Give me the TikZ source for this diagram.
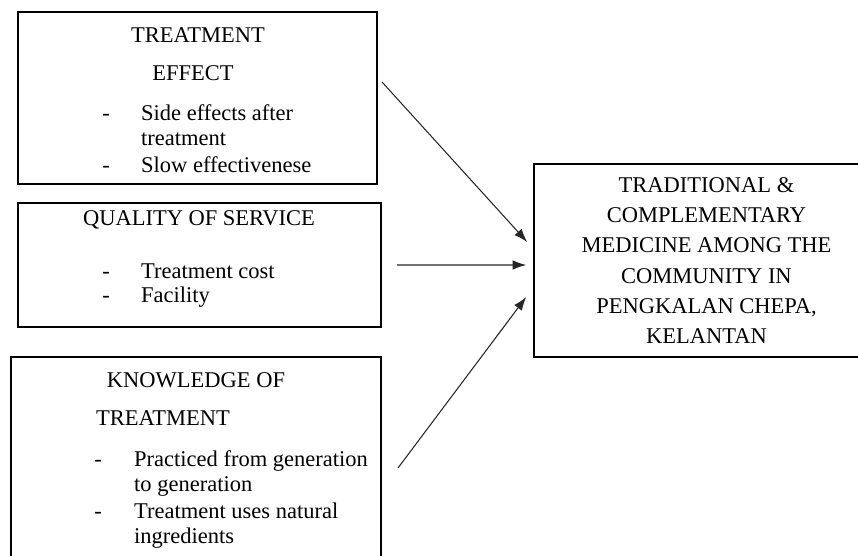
\documentclass[tikz,border=0pt]{standalone}
\usepackage{fontspec}
\setmainfont{Liberation Serif}
\usetikzlibrary{arrows.meta}
\tikzset{
  box/.style={draw,line width=.9pt,inner sep=0pt},
  head/.style={anchor=base},
  bullet/.style={anchor=base},
  item/.style={anchor=base west},
  arr/.style={-{Latex[length=.27cm,width=.19cm]},black!85,line width=.6pt}
}

\begin{document}
\begin{tikzpicture}[font=\fontsize{12.8}{17.1}\selectfont,line join=miter]
  \useasboundingbox (0,0) rectangle (17.16,11.1);
  \clip (0,0) rectangle (17.16,11.1);

  % left boxes
  \node[box,minimum width=7.18cm,minimum height=3.44cm] (effect) at (3.95,9.14) {};
  \node[box,minimum width=7.26cm,minimum height=2.48cm] (service) at (3.99,5.8) {};
  \node[box,minimum width=7.4cm,minimum height=4.46cm] (knowledge) at (3.92,1.73) {};

  % outcome box
  \node[box,minimum width=6.9cm,minimum height=3.86cm,align=center] (goal) at (14.13,5.89)
    {TRADITIONAL \&\\COMPLEMENTARY\\MEDICINE AMONG THE\\COMMUNITY IN\\PENGKALAN CHEPA,\\KELANTAN};

  % treatment effect
  \node[head] (effhd1) at (3.96,10.26) {TREATMENT};
  \node[head] (effhd2) at (3.86,9.5) {EFFECT};
  \node[bullet] (effd1) at (2.12,8.7) {-};
  \node[item] (eff1) at (2.7,8.7) {Side effects after};
  \node[item] (eff1b) at (2.7,8.19) {treatment};
  \node[bullet] (effd2) at (2.12,7.65) {-};
  \node[item] (eff2) at (2.7,7.65) {Slow effectivenese};

  % quality of service
  \node[head] (serhd) at (3.98,6.6) {QUALITY OF SERVICE};
  \node[bullet] (serd1) at (2.12,5.54) {-};
  \node[item] (ser1) at (2.7,5.54) {Treatment cost};
  \node[bullet] (serd2) at (2.12,5.06) {-};
  \node[item] (ser2) at (2.7,5.06) {Facility};

  % knowledge of treatment
  \node[head] (knohd1) at (3.92,3.36) {KNOWLEDGE OF};
  \node[head] (knohd2) at (3.26,2.6) {TREATMENT};
  \node[bullet] (knod1) at (1.96,1.77) {-};
  \node[item] (kno1) at (2.56,1.77) {Practiced from generation};
  \node[item] (kno1b) at (2.56,1.28) {to generation};
  \node[bullet] (knod2) at (1.96,.74) {-};
  \node[item] (kno2) at (2.56,.74) {Treatment uses natural};
  \node[item] (kno2b) at (2.56,.24) {ingredients};

  % arrows
  \coordinate (s1) at (7.64,9.46);
  \coordinate (s2) at (7.94,5.8);
  \coordinate (s3) at (7.96,1.74);
  \draw[arr] (s1) -- ([xshift=-.12cm,yshift=.37cm]goal.west);
  \draw[arr] (s2) -- ([xshift=-.14cm,yshift=-.09cm]goal.west);
  \draw[arr] (s3) -- ([xshift=-.14cm,yshift=-.73cm]goal.west);
\end{tikzpicture}
\end{document}
